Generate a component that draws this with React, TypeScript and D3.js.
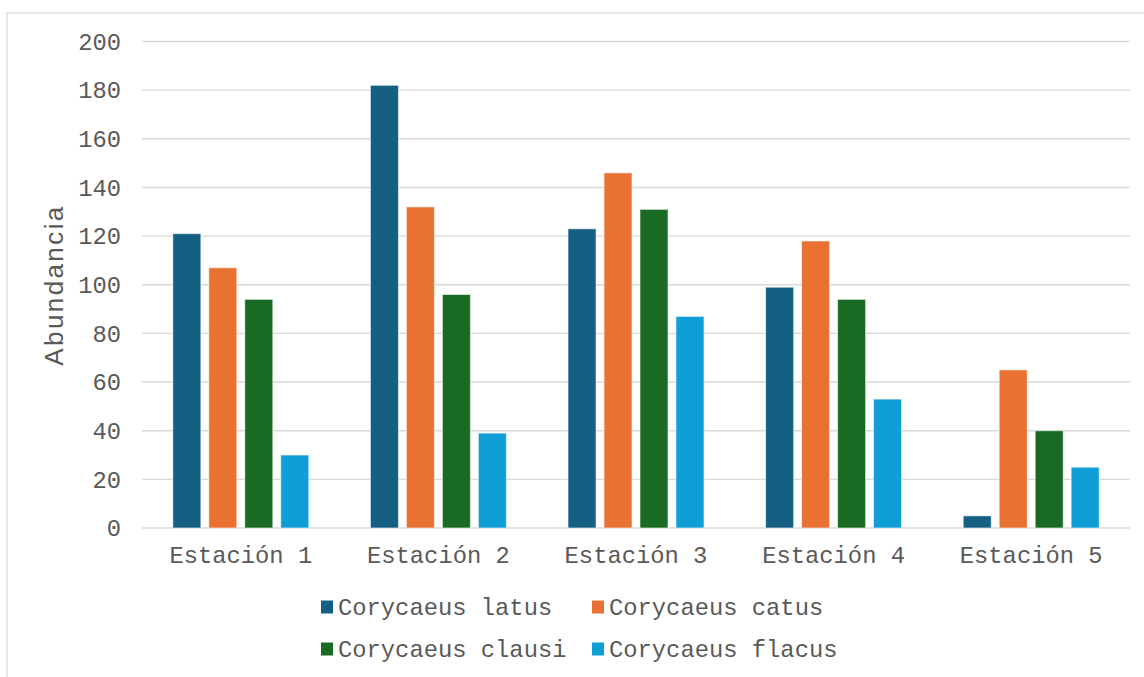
import React from "react";
import * as d3 from "d3";

const stations = ["Estación 1", "Estación 2", "Estación 3", "Estación 4", "Estación 5"];
const species = ["Corycaeus latus", "Corycaeus catus", "Corycaeus clausi", "Corycaeus flacus"];
const colors = ["#156082", "#E97132", "#196B24", "#0F9ED5"];

const latus = [121, 182, 123, 99, 5];
const catus = [107, 132, 146, 118, 65];
const clausi = [94, 96, 131, 94, 40];
const flacus = [30, 39, 87, 53, 25];
const seriesValues = [latus, catus, clausi, flacus];

const yTicks = [0, 20, 40, 60, 80, 100, 120, 140, 160, 180, 200];

const W = 1144;
const H = 677;
const plot = { left: 142, right: 1130, top: 41.5, bottom: 528 };
const mono = "'Liberation Mono', monospace";
const fontSize = 23.8;
const textColor = "#595959";
const gridColor = "#d9d9d9";

export default function App() {
  const x0 = d3.scaleBand<string>().domain(stations).range([plot.left, plot.right]).padding(0);
  const groupPad = 30.8;
  const x1 = d3
    .scaleBand<string>()
    .domain(species)
    .range([groupPad, x0.bandwidth() - groupPad])
    .paddingInner(0.22)
    .paddingOuter(0);
  const y = d3.scaleLinear().domain([0, 200]).range([plot.bottom, plot.top]);

  const legendCols = [321, 592];
  const legendRows = [607, 649];

  return (
    <svg
      width={W}
      height={H}
      style={{ position: "absolute", left: 0, top: 0, background: "#fff" }}
    >
      <rect x={0} y={0} width={W} height={H} fill="#fff" />
      <rect x={7} y={13} width={W} height={H} fill="none" stroke={gridColor} strokeWidth={1.3} />

      {/* gridlines */}
      {yTicks.map((t) => (
        <line
          key={t}
          x1={plot.left}
          x2={plot.right}
          y1={y(t)}
          y2={y(t)}
          stroke={gridColor}
          strokeWidth={1.4}
        />
      ))}

      {/* y tick labels */}
      {yTicks.map((t) => (
        <text
          key={"l" + t}
          x={121}
          y={y(t)}
          dy="0.35em"
          textAnchor="end"
          fontFamily={mono}
          fontSize={fontSize}
          fill={textColor}
        >
          {t}
        </text>
      ))}

      {/* y axis title */}
      <text
        transform={`translate(63,${285}) rotate(-90)`}
        textAnchor="middle"
        fontFamily="'Liberation Sans', Arial, sans-serif"
        fontSize={26}
        letterSpacing={2.4}
        fill={textColor}
      >
        Abundancia
      </text>

      {/* bars */}
      {stations.map((st, i) => (
        <g key={st} transform={`translate(${x0(st)},0)`}>
          {species.map((sp, j) => {
            const v = seriesValues[j][i];
            return (
              <rect
                key={sp}
                x={x1(sp)}
                y={y(v)}
                width={x1.bandwidth()}
                height={y(0) - y(v)}
                fill={colors[j]}
                stroke="#ffffff"
                strokeOpacity={0.6}
                strokeWidth={1}
              />
            );
          })}
        </g>
      ))}

      {/* x labels */}
      {stations.map((st) => (
        <text
          key={"x" + st}
          x={(x0(st) as number) + x0.bandwidth() / 2}
          y={563}
          textAnchor="middle"
          fontFamily={mono}
          fontSize={fontSize}
          fill={textColor}
        >
          {st}
        </text>
      ))}

      {/* legend */}
      {species.map((sp, j) => {
        const lx = legendCols[j % 2];
        const ly = legendRows[Math.floor(j / 2)];
        return (
          <g key={"lg" + sp}>
            <rect x={lx} y={ly - 6.5} width={12} height={13} fill={colors[j]} />
            <text
              x={lx + 17}
              y={ly}
              dy="0.35em"
              fontFamily={mono}
              fontSize={fontSize}
              fill={textColor}
            >
              {sp}
            </text>
          </g>
        );
      })}
    </svg>
  );
}
